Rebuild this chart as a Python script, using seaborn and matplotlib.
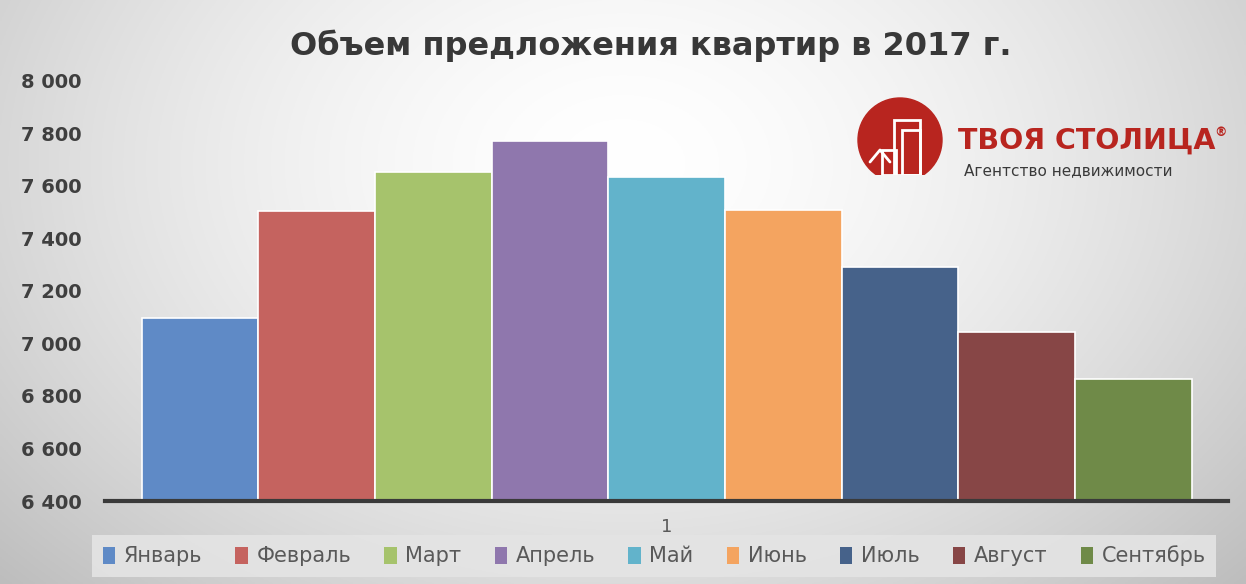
import numpy as np
import pandas as pd
import matplotlib
matplotlib.use("Agg")
import matplotlib.pyplot as plt
import seaborn as sns
from matplotlib.patches import Circle, Rectangle
from matplotlib.ticker import FuncFormatter

# ---- data ----
months = ["Январь", "Февраль", "Март", "Апрель", "Май", "Июнь", "Июль", "Август", "Сентябрь"]
values = [7096, 7502, 7651, 7769, 7632, 7507, 7289, 7044, 6865]
category = ["1"] * len(months)
colors = ["#5f8ac6", "#c5635f", "#a6c36c", "#8f77ad", "#62b3cb", "#f4a460", "#46628a", "#874646", "#6f8a48"]
title = "Объем предложения квартир в 2017 г."
yticks = [6400, 6600, 6800, 7000, 7200, 7400, 7600, 7800, 8000]

df = pd.DataFrame({"cat": category, "month": months, "value": values})

sns.set_theme(style="white")
plt.rcParams["font.family"] = ["DejaVu Sans"]

fig = plt.figure(figsize=(12.46, 5.84), dpi=100)

# background gradient
bg = fig.add_axes([0, 0, 1, 1], zorder=-10)
yy, xx = np.mgrid[0:1:300j, 0:1:600j]
r = np.sqrt(((xx - 0.5) / 0.62) ** 2 + ((yy - 0.28) / 0.95) ** 2)
shade = 1.0 - 0.22 * np.clip(r, 0, 1.2) ** 1.6
bg.imshow(np.dstack([shade, shade, shade]), extent=[0, 1, 0, 1], origin="upper", aspect="auto")
bg.set_axis_off()

ax = fig.add_axes([0.0843, 0.142, 0.9013, 0.72])
ax.patch.set_alpha(0)
sns.barplot(data=df, x="cat", y="value", hue="month", palette=colors, width=0.935,
            edgecolor="white", linewidth=1.2, saturation=1, ax=ax, legend=True)
ax.set_ylim(6400, 8000)
ax.set_xlim(-0.5, 0.5)
ax.set_yticks(yticks)
ax.yaxis.set_major_formatter(FuncFormatter(lambda v, p: f"{int(v):,}".replace(",", " ")))
ax.tick_params(axis="y", labelsize=14, colors="#3f3f3f", length=0, pad=17)
for t in ax.get_yticklabels():
    t.set_fontweight("bold")
ax.tick_params(axis="x", labelsize=13, colors="#595959", length=0, pad=12)
ax.set_xlabel("")
ax.set_ylabel("")
for s in ["top", "right", "left"]:
    ax.spines[s].set_visible(False)
ax.spines["bottom"].set_color("#3a3a3a")
ax.spines["bottom"].set_linewidth(3)

# legend
handles, labels = ax.get_legend_handles_labels()
ax.get_legend().remove()
leg = fig.legend(handles, labels, loc="center", bbox_to_anchor=(0.525, 0.048), ncol=9,
                 frameon=True, fancybox=False, handlelength=0.6, handleheight=0.9,
                 handletextpad=0.4, columnspacing=1.6, borderpad=0.5,
                 prop={"family": ["Liberation Sans Narrow", "DejaVu Sans"], "size": 15})
leg.get_frame().set_facecolor("#e4e4e4")
leg.get_frame().set_edgecolor("none")
leg.get_frame().set_alpha(0.9)
for h in leg.legend_handles:
    h.set_edgecolor("none")
for t in leg.get_texts():
    t.set_color("#595959")

# title
fig.text(0.522, 0.922, title, ha="center", va="center", fontsize=23, fontweight="bold", color="#383838")

# logo
lg = fig.add_axes([0, 0, 1, 1], zorder=5)
lg.set_xlim(0, 1246)
lg.set_ylim(584, 0)
lg.set_axis_off()
clip = Rectangle((850, 90), 120, 85, transform=lg.transData)
circ = Circle((900, 140), 42, color="#b8251f")
lg.add_patch(circ)
circ.set_clip_path(clip)
for x0, y0, w in [(894, 120, 26), (902, 130, 18), (882, 150, 14)]:
    rr = Rectangle((x0, y0), w, 175 - y0, fill=False, edgecolor="white", linewidth=2)
    lg.add_patch(rr)
    rr.set_clip_path(clip)
lg.plot([870, 880, 890], [162, 150, 162], color="white", lw=2)
lg.text(958, 141, "ТВОЯ СТОЛИЦА", fontsize=20.5, fontweight="bold", color="#b8251f", va="center", ha="left")
lg.text(1214, 133, "®", fontsize=9, fontweight="bold", color="#b8251f", va="center", ha="left")
lg.text(964, 171, "Агентство недвижимости", fontsize=11, color="#3a3a3a", va="center", ha="left")

fig.savefig("out.png", dpi=100)
